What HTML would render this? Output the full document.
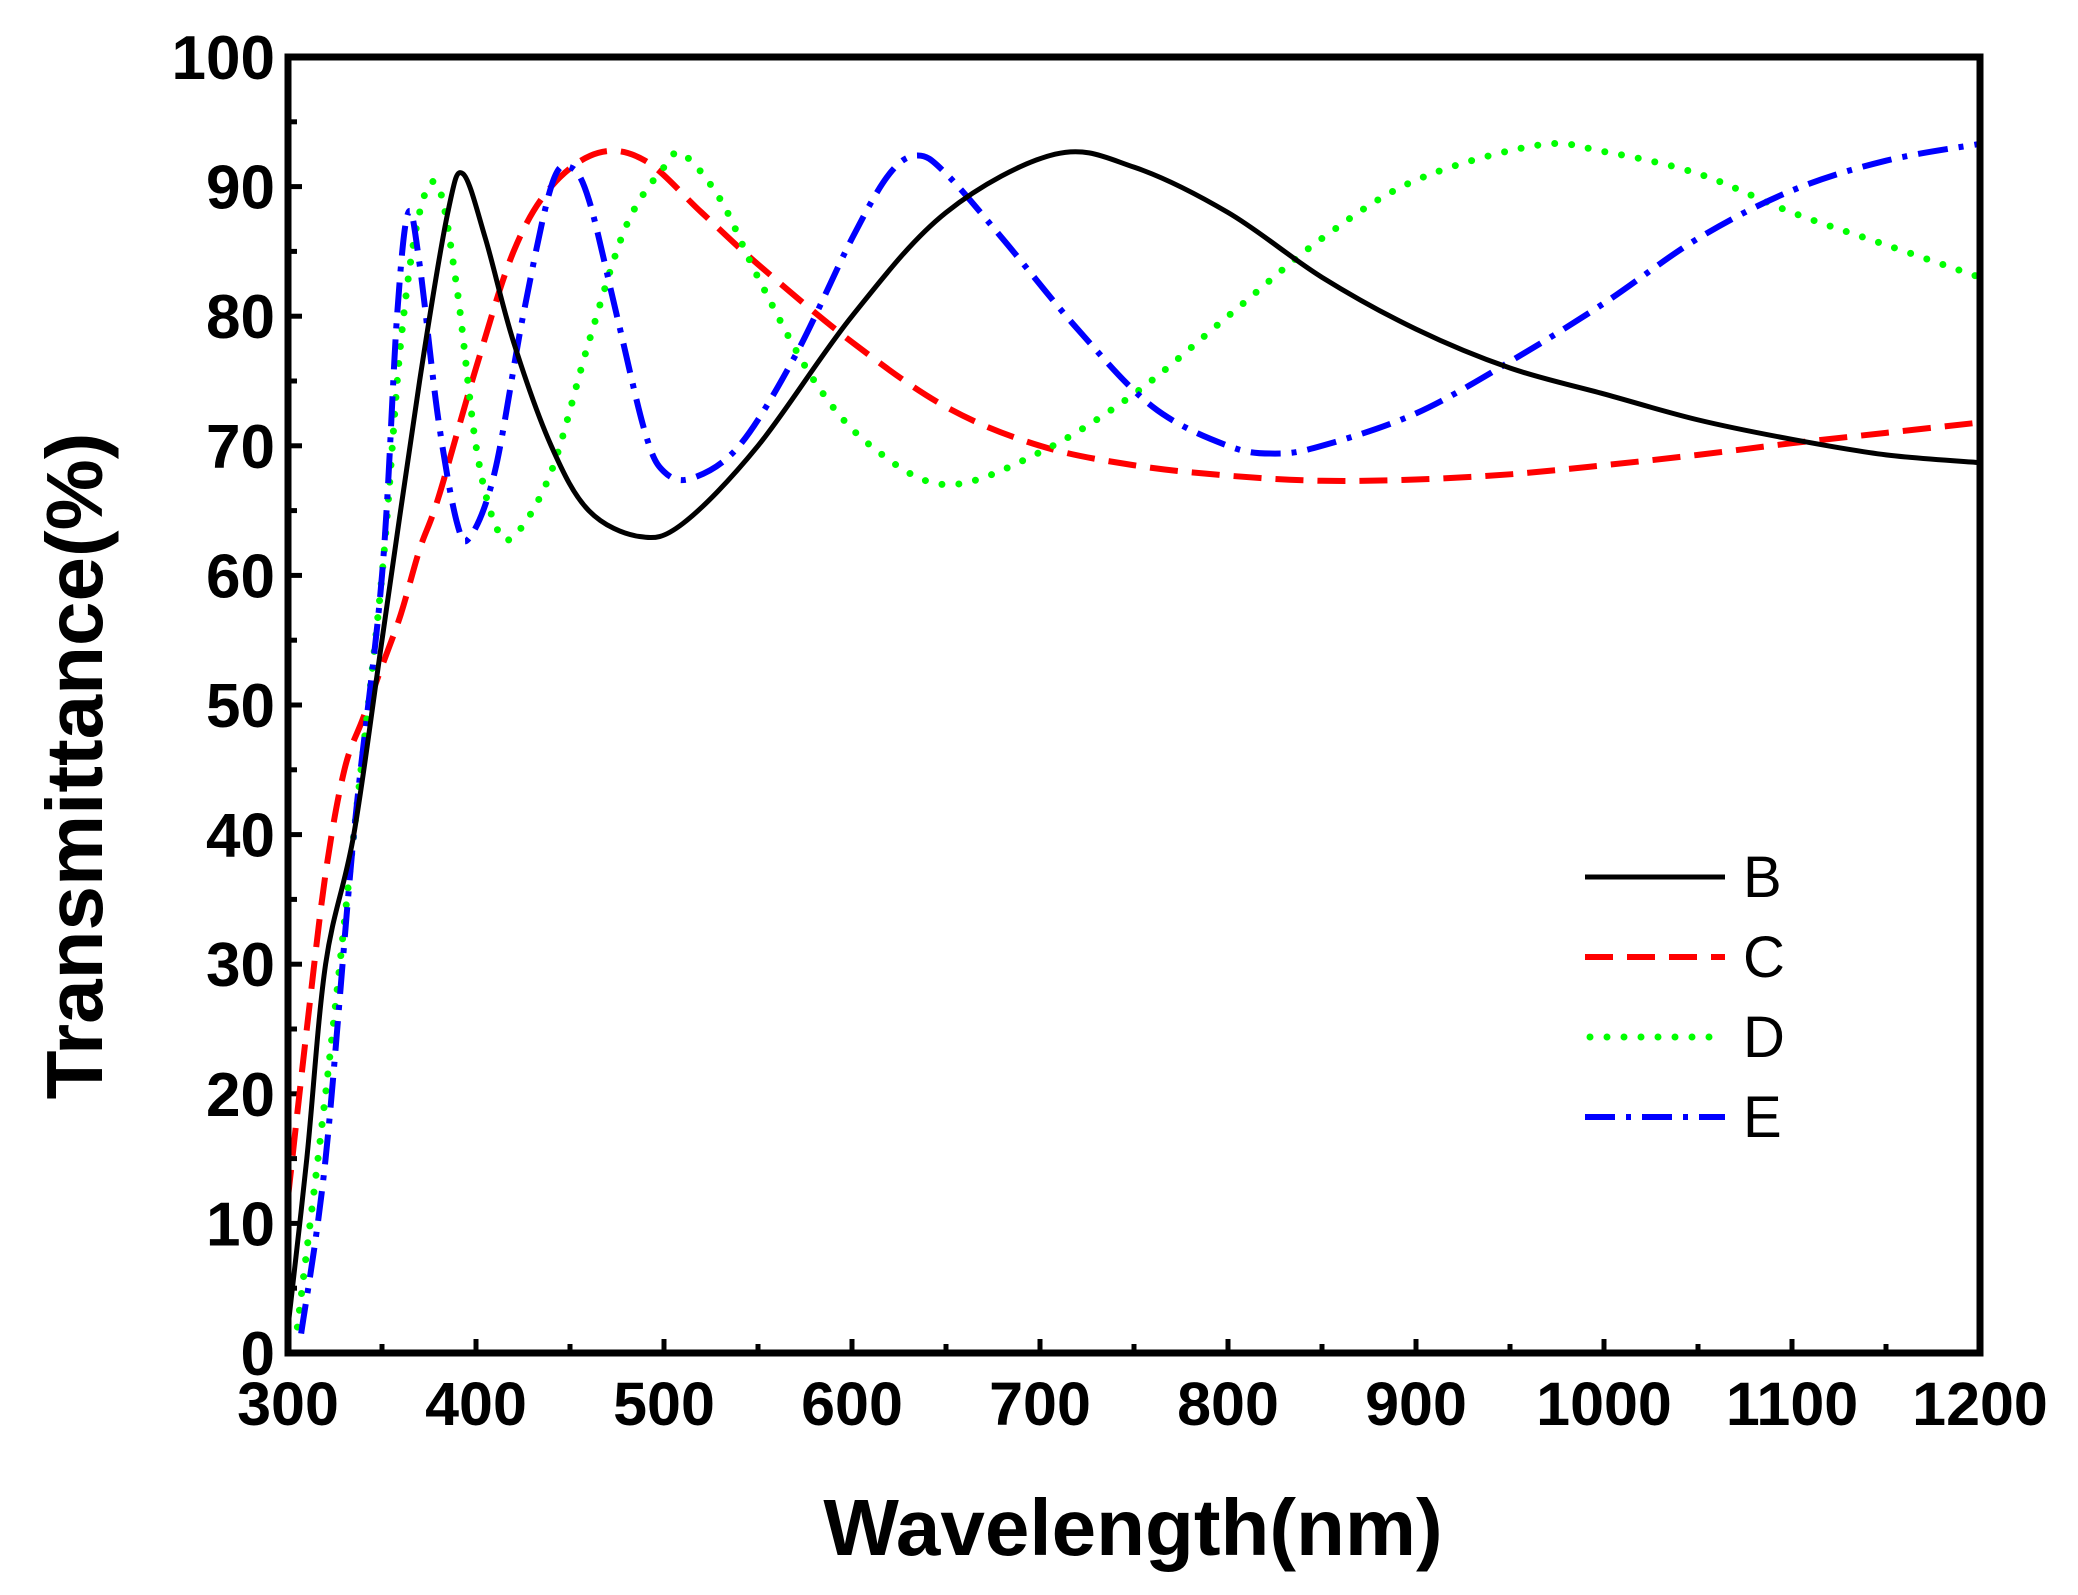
<!DOCTYPE html>
<html><head><meta charset="utf-8"><style>
html,body{margin:0;padding:0;background:#fff;}
svg{display:block;}
text{font-family:"Liberation Sans",Arial,sans-serif;}
</style></head><body>
<svg id="s" width="2078" height="1595" xmlns="http://www.w3.org/2000/svg">
<rect width="2078" height="1595" fill="#fff"/>
<g id="ticks"></g>
<g id="curves" fill="none" stroke-linejoin="round"></g>
<rect x="288" y="57" width="1692" height="1296" fill="none" stroke="#000" stroke-width="7"/>
<g font-size="62" font-weight="bold" text-anchor="end" id="ylab"></g>
<g font-size="61" font-weight="bold" text-anchor="middle" id="xlab"></g>
<text x="1133" y="1555" font-size="80" font-weight="bold" text-anchor="middle">Wavelength(nm)</text>
<text transform="translate(102,766) rotate(-90)" font-size="80" font-weight="bold" text-anchor="middle">Transmittance(%)</text>
<g font-size="58">
<line x1="1585" y1="877" x2="1725" y2="877" stroke="#000" stroke-width="5"/>
<text x="1743" y="897">B</text>
<line x1="1585" y1="957" x2="1725" y2="957" stroke="#f00" stroke-width="6" stroke-dasharray="28 14"/>
<text x="1743" y="977">C</text>
<line x1="1590" y1="1037" x2="1725" y2="1037" stroke="#0f0" stroke-width="7" stroke-linecap="round" stroke-dasharray="0 17"/>
<text x="1743" y="1057">D</text>
<line x1="1585" y1="1117" x2="1725" y2="1117" stroke="#00f" stroke-width="6" stroke-dasharray="30 11 5 11"/>
<text x="1743" y="1137">E</text>
</g>
</svg>
<script>
var X=function(w){return 288+(w-300)*1.88;},Y=function(t){return 1353-t*12.96;};
var ns="http://www.w3.org/2000/svg";
function el(p,n,a,t){var e=document.createElementNS(ns,n);for(var k in a)e.setAttribute(k,a[k]);if(t)e.textContent=t;document.getElementById(p).appendChild(e);}
for(var v=0;v<=100;v+=5){var y=Y(v),L=v%10==0?14:9;el("ticks","line",{x1:288,x2:288+L,y1:y,y2:y,stroke:"#000","stroke-width":5});
 if(v%10==0)el("ylab","text",{x:275,y:y+22},String(v));}
for(var w=300;w<=1200;w+=50){var x=X(w),L=w%100==0?14:9;el("ticks","line",{x1:x,x2:x,y1:1353,y2:1353-L,stroke:"#000","stroke-width":5});
 if(w%100==0)el("xlab","text",{x:x,y:1425},String(w));}
var B=[[300,2],[310,15],[320,30],[335,40],[350,55],[370,75],[385,88],[393,91],[405,86],[420,78],[440,70],[460,65],[487,63],[510,64],[550,70],[600,80],[650,88],[708,92.5],[750,91.5],[800,88],[850,83],[900,79],[950,76],[1000,74],[1050,72],[1100,70.5],[1150,69.3],[1200,68.7]];
var C=[[300,12],[310,25],[320,37],[330,45],[340,49],[350,53],[360,57],[370,62],[380,66],[400,76],[420,85],[440,90],[465,92.6],[490,92],[520,88],[550,84],[600,78],[650,73],[700,70],[750,68.5],[800,67.7],[850,67.3],[900,67.4],[950,67.8],[1000,68.5],[1050,69.3],[1100,70.2],[1150,71],[1200,71.8]];
var D=[[305,2],[320,20],[335,40],[350,60],[360,78],[370,88],[380,90],[390,82],[400,70],[410,64],[420,63],[440,68],[460,78],[480,87],[500,91.5],[510,92.5],[530,89],[550,83],[580,75],[610,70],[650,67],[700,69.5],[750,74],[800,80],[850,86],[900,90.5],[965,93.2],[1000,92.7],[1050,91],[1100,88],[1150,85.5],[1200,83]];
var E=[[307,1.5],[320,15],[335,40],[350,60],[358,80],[364,88],[370,84],[380,72],[390,64],[397,63],[410,68],[425,80],[440,90],[450,91.5],[460,89],[475,80],[490,71],[500,68],[515,67.5],[540,70],[570,77],[600,86],[620,91],[635,92.4],[650,91],[680,86],[720,79],[760,73],[800,70],[825,69.4],[850,70],[900,72.5],[950,76.5],[1000,81],[1050,86],[1100,89.7],[1150,92],[1200,93.3]];
function path(d){var p=d.map(function(q){return[X(q[0]),Y(q[1])];});var s="M"+p[0][0]+","+p[0][1];
 for(var i=0;i<p.length-1;i++){var a=p[Math.max(i-1,0)],b=p[i],c=p[i+1],e=p[Math.min(i+2,p.length-1)];
 s+="C"+(b[0]+(c[0]-a[0])/6)+","+(b[1]+(c[1]-a[1])/6)+" "+(c[0]-(e[0]-b[0])/6)+","+(c[1]-(e[1]-b[1])/6)+" "+c[0]+","+c[1];}return s;}
el("curves","path",{d:path(C),stroke:"#f00","stroke-width":6,"stroke-dasharray":"28 14"});
el("curves","path",{d:path(D),stroke:"#0f0","stroke-width":7,"stroke-linecap":"round","stroke-dasharray":"0 17"});
el("curves","path",{d:path(E),stroke:"#00f","stroke-width":6,"stroke-dasharray":"30 11 5 11"});
el("curves","path",{d:path(B),stroke:"#000","stroke-width":5});
</script>
</body></html>
